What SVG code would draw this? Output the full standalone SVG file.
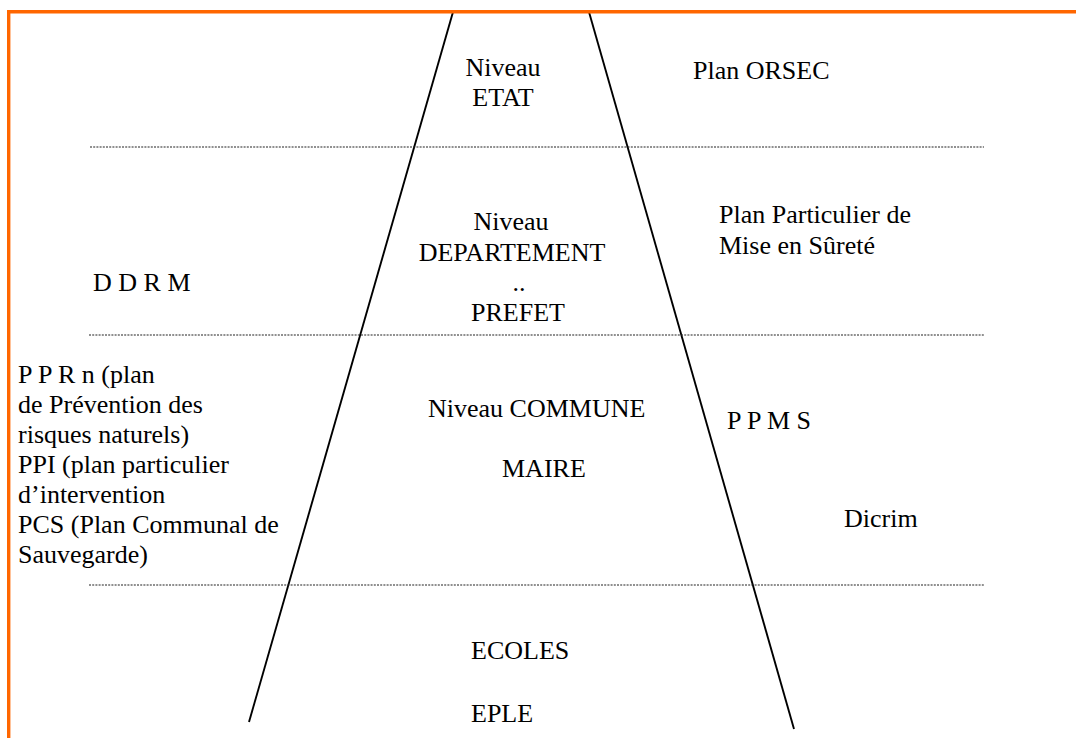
<svg xmlns="http://www.w3.org/2000/svg" width="1076" height="738" viewBox="0 0 1076 738" font-family="'Liberation Serif', 'Times New Roman', serif">
<style>
text{font-family:"Liberation Serif","Times New Roman",serif;font-size:26px;fill:#000}
.dot{stroke:#222;stroke-width:1.2;stroke-dasharray:2 1.2;fill:none}
.edge{stroke:#000;stroke-width:1.9;fill:none}
.frame{stroke:#FF6600;stroke-width:3.4;fill:none}
</style>
<rect width="1076" height="738" fill="#fff"/>
<g id="connectors">
<line class="edge" x1="453" y1="12" x2="249" y2="722"/>
<line class="edge" x1="589" y1="12" x2="794" y2="729"/>
<line class="dot" x1="90" y1="147" x2="984" y2="147"/>
<line class="dot" x1="89" y1="335" x2="984" y2="335"/>
<line class="dot" x1="89" y1="585" x2="984" y2="585"/>
</g>
<g id="frame">
<path class="frame" d="M8.7 738 V11.7 H1076"/>
</g>
<g id="etat">
<text x="503" y="76" text-anchor="middle">Niveau</text>
<text x="503" y="106" text-anchor="middle">ETAT</text>
</g>
<g id="orsec"><text x="693" y="79">Plan ORSEC</text></g>
<g id="departement">
<text x="511" y="230" text-anchor="middle">Niveau</text>
<text x="512" y="261" text-anchor="middle">DEPARTEMENT</text>
<text x="519" y="291" text-anchor="middle">..</text>
<text x="518" y="321" text-anchor="middle">PREFET</text>
</g>
<g id="ppms-plan">
<text x="719" y="223">Plan Particulier de</text>
<text x="719" y="254">Mise en Sûreté</text>
</g>
<g id="ddrm"><text x="93" y="291">D D R M</text></g>
<g id="left-plans">
<text x="18" y="383">P P R n (plan</text>
<text x="18" y="413">de Prévention des</text>
<text x="18" y="443">risques naturels)</text>
<text x="18" y="473">PPI (plan particulier</text>
<text x="18" y="503">d’intervention</text>
<text x="18" y="533">PCS (Plan Communal de</text>
<text x="18" y="563">Sauvegarde)</text>
</g>
<g id="commune">
<text x="428" y="417">Niveau COMMUNE</text>
<text x="502" y="477">MAIRE</text>
</g>
<g id="ppms"><text x="727" y="429">P P M S</text></g>
<g id="dicrim"><text x="844" y="527">Dicrim</text></g>
<g id="ecoles">
<text x="471" y="659">ECOLES</text>
<text x="471" y="722">EPLE</text>
</g>
</svg>
